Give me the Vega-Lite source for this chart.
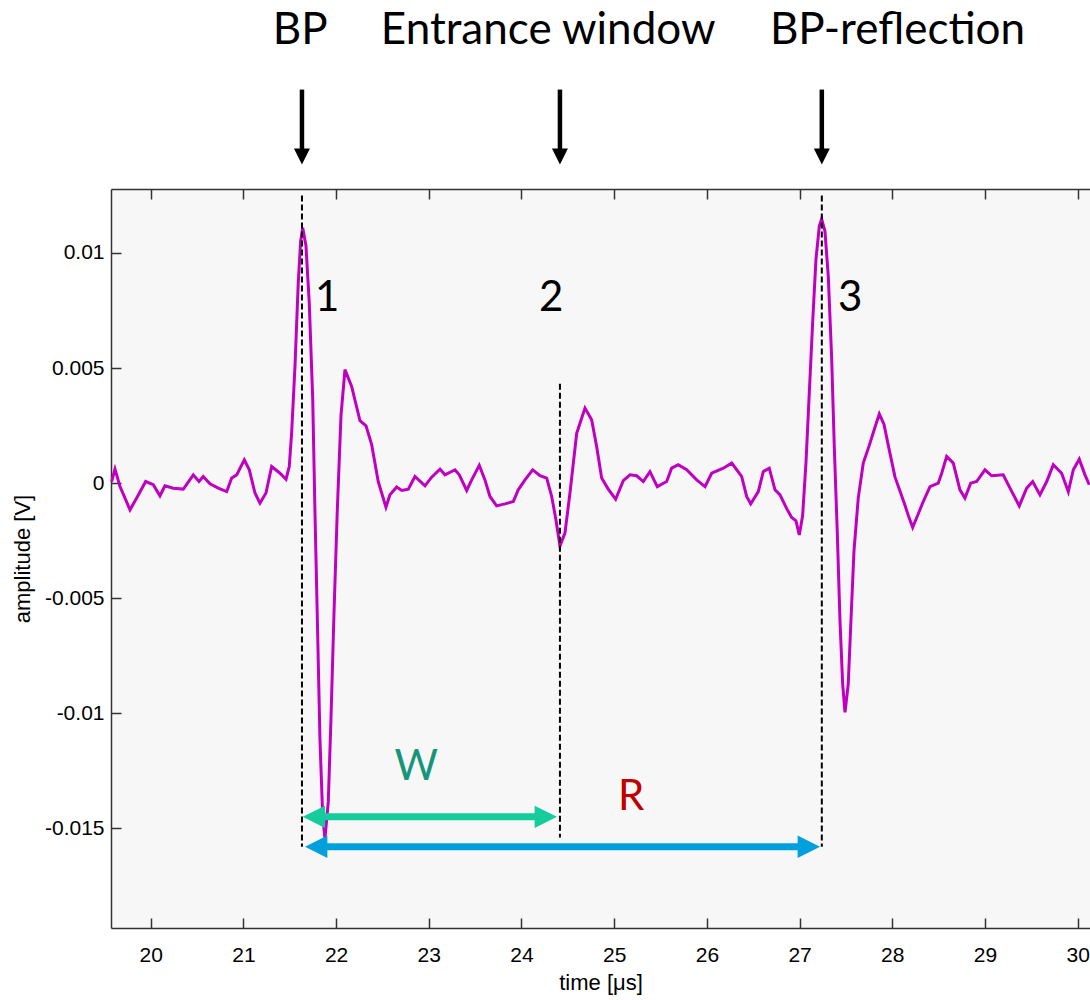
{
  "$schema": "https://vega.github.io/schema/vega-lite/v6.json",
  "width": 979,
  "height": 739,
  "autosize": {"type": "none"},
  "padding": {"left": 111, "top": 189, "right": 0, "bottom": 72},
  "background": "white",
  "config": {
    "view": {"fill": "#f7f7f7", "stroke": null},
    "axis": {
      "domainColor": "#333333", "domainWidth": 1.5,
      "tickColor": "#333333", "tickWidth": 1.5, "tickSize": -10,
      "labelFont": "Liberation Sans", "labelFontSize": 21, "labelColor": "black",
      "titleFont": "Liberation Sans", "titleFontSize": 22, "titleFontWeight": "normal", "titleColor": "black",
      "grid": false
    }
  },
  "datasets": {
    "wave": [
      {"t":19.579,"v":0.00007},{"t":19.615,"v":0.00061},{"t":19.669,"v":-0.00015},{"t":19.723,"v":-0.00065},
      {"t":19.777,"v":-0.00116},{"t":19.849,"v":-0.00065},{"t":19.946,"v":0.00007},{"t":20.028,"v":-0.00007},
      {"t":20.100,"v":-0.00055},{"t":20.154,"v":-0.00012},{"t":20.244,"v":-0.00022},{"t":20.352,"v":-0.00026},
      {"t":20.460,"v":0.00036},{"t":20.521,"v":0.00007},{"t":20.567,"v":0.00029},{"t":20.640,"v":-0.00003},
      {"t":20.729,"v":-0.00022},{"t":20.820,"v":-0.00037},{"t":20.874,"v":0.00022},{"t":20.928,"v":0.00036},
      {"t":21.010,"v":0.00101},{"t":21.064,"v":0.00058},{"t":21.125,"v":-0.00043},{"t":21.179,"v":-0.00087},
      {"t":21.244,"v":-0.00043},{"t":21.305,"v":0.00072},{"t":21.395,"v":0.00043},{"t":21.460,"v":0.00017},
      {"t":21.495,"v":0.00072},{"t":21.521,"v":0.00221},{"t":21.557,"v":0.00510},{"t":21.592,"v":0.00871},
      {"t":21.618,"v":0.01051},{"t":21.640,"v":0.01109},{"t":21.675,"v":0.01033},{"t":21.711,"v":0.00781},
      {"t":21.748,"v":0.00367},{"t":21.772,"v":-0.00120},{"t":21.797,"v":-0.00573},{"t":21.826,"v":-0.01113},
      {"t":21.855,"v":-0.01438},{"t":21.880,"v":-0.01545},{"t":21.916,"v":-0.01384},{"t":21.945,"v":-0.01023},
      {"t":21.977,"v":-0.00573},{"t":22.013,"v":-0.00120},{"t":22.053,"v":0.00293},{"t":22.096,"v":0.00493},
      {"t":22.168,"v":0.00420},{"t":22.258,"v":0.00271},{"t":22.323,"v":0.00249},{"t":22.384,"v":0.00167},
      {"t":22.455,"v":0.00006},{"t":22.538,"v":-0.00105},{"t":22.581,"v":-0.00051},{"t":22.654,"v":-0.00017},
      {"t":22.708,"v":-0.00032},{"t":22.779,"v":-0.00026},{"t":22.851,"v":0.00029},{"t":22.959,"v":-0.00012},
      {"t":23.031,"v":0.00026},{"t":23.121,"v":0.00061},{"t":23.175,"v":0.00036},{"t":23.283,"v":0.00058},
      {"t":23.329,"v":0.00036},{"t":23.409,"v":-0.00032},{"t":23.463,"v":0.00014},{"t":23.545,"v":0.00077},
      {"t":23.606,"v":0.00014},{"t":23.660,"v":-0.00058},{"t":23.732,"v":-0.00099},{"t":23.822,"v":-0.00090},
      {"t":23.912,"v":-0.00080},{"t":23.965,"v":-0.00029},{"t":24.038,"v":0.00014},{"t":24.121,"v":0.00058},
      {"t":24.200,"v":0.00032},{"t":24.272,"v":0.00022},{"t":24.326,"v":-0.00058},{"t":24.372,"v":-0.00160},
      {"t":24.415,"v":-0.00273},{"t":24.469,"v":-0.00217},{"t":24.523,"v":-0.00043},{"t":24.596,"v":0.00217},
      {"t":24.685,"v":0.00326},{"t":24.757,"v":0.00275},{"t":24.811,"v":0.00159},{"t":24.865,"v":0.00022},
      {"t":24.936,"v":-0.00026},{"t":25.016,"v":-0.00070},{"t":25.098,"v":0.00011},{"t":25.171,"v":0.00036},
      {"t":25.243,"v":0.00032},{"t":25.314,"v":0.00007},{"t":25.386,"v":0.00050},{"t":25.465,"v":-0.00015},
      {"t":25.566,"v":0.00007},{"t":25.620,"v":0.00065},{"t":25.691,"v":0.00080},{"t":25.782,"v":0.00058},
      {"t":25.890,"v":0.00014},{"t":25.980,"v":-0.00015},{"t":26.052,"v":0.00043},{"t":26.177,"v":0.00065},
      {"t":26.268,"v":0.00087},{"t":26.375,"v":0.00029},{"t":26.429,"v":-0.00058},{"t":26.473,"v":-0.00090},
      {"t":26.555,"v":-0.00037},{"t":26.608,"v":0.00050},{"t":26.673,"v":0.00065},{"t":26.735,"v":-0.00029},
      {"t":26.789,"v":-0.00051},{"t":26.861,"v":-0.00111},{"t":26.915,"v":-0.00149},{"t":26.961,"v":-0.00164},
      {"t":26.997,"v":-0.00225},{"t":27.033,"v":-0.00141},{"t":27.069,"v":0.00088},{"t":27.105,"v":0.00393},
      {"t":27.141,"v":0.00698},{"t":27.177,"v":0.00973},{"t":27.213,"v":0.01117},{"t":27.238,"v":0.01148},
      {"t":27.274,"v":0.01094},{"t":27.310,"v":0.00896},{"t":27.346,"v":0.00545},{"t":27.374,"v":0.00164},
      {"t":27.407,"v":-0.00217},{"t":27.436,"v":-0.00599},{"t":27.465,"v":-0.00873},{"t":27.490,"v":-0.00996},
      {"t":27.525,"v":-0.00873},{"t":27.554,"v":-0.00599},{"t":27.587,"v":-0.00294},{"t":27.633,"v":-0.00065},
      {"t":27.687,"v":0.00087},{"t":27.752,"v":0.00164},{"t":27.806,"v":0.00233},{"t":27.860,"v":0.00301},
      {"t":27.911,"v":0.00255},{"t":27.957,"v":0.00164},{"t":28.029,"v":0.00027},{"t":28.083,"v":-0.00034},
      {"t":28.137,"v":-0.00096},{"t":28.173,"v":-0.00141},{"t":28.220,"v":-0.00192},{"t":28.281,"v":-0.00133},
      {"t":28.334,"v":-0.00080},{"t":28.407,"v":-0.00015},{"t":28.496,"v":0.00000},{"t":28.533,"v":0.00043},
      {"t":28.587,"v":0.00116},{"t":28.658,"v":0.00087},{"t":28.730,"v":-0.00029},{"t":28.784,"v":-0.00065},
      {"t":28.846,"v":0.00000},{"t":28.910,"v":0.00007},{"t":29.000,"v":0.00058},{"t":29.072,"v":0.00032},
      {"t":29.197,"v":0.00036},{"t":29.270,"v":-0.00022},{"t":29.370,"v":-0.00099},{"t":29.450,"v":-0.00022},
      {"t":29.515,"v":0.00007},{"t":29.593,"v":-0.00051},{"t":29.666,"v":0.00007},{"t":29.737,"v":0.00080},
      {"t":29.827,"v":0.00043},{"t":29.899,"v":-0.00037},{"t":29.953,"v":0.00058},{"t":30.017,"v":0.00104},
      {"t":30.079,"v":0.00036},{"t":30.125,"v":-0.00007}
    ],
    "dashed": [
      {"t":21.632,"top":0.0125,"bot":-0.0158},
      {"t":24.415,"top":0.00432,"bot":-0.0154},
      {"t":27.240,"top":0.0125,"bot":-0.0158}
    ],
    "shafts": [
      {"arrow":"W","t1":21.78,"t2":24.24,"y":-0.0145},
      {"arrow":"R","t1":21.80,"t2":27.08,"y":-0.0158}
    ],
    "heads": [
      {"arrow":"W","side":"left","t":21.640,"y":-0.0145},
      {"arrow":"W","side":"right","t":24.383,"y":-0.0145},
      {"arrow":"R","side":"left","t":21.665,"y":-0.0158},
      {"arrow":"R","side":"right","t":27.220,"y":-0.0158}
    ],
    "markers": [
      {"label":"BP","t":21.632,"lt":21.613},
      {"label":"Entrance window","t":24.415,"lt":24.288},
      {"label":"BP-reflection","t":27.240,"lt":28.056}
    ],
    "nums": [
      {"n":"1","t":21.904},
      {"n":"2","t":24.321},
      {"n":"3","t":27.546}
    ],
    "wr": [
      {"k":"W","t":22.864,"y":-0.01233},
      {"k":"R","t":25.183,"y":-0.01363}
    ]
  },
  "layer": [
    {
      "data": {"name": "wave"},
      "mark": {"type": "line", "color": "#c000c0", "strokeWidth": 3},
      "encoding": {
        "x": {"field": "t", "type": "quantitative",
              "scale": {"domain": [19.572, 30.133], "nice": false, "zero": false},
              "axis": {"orient": "bottom", "values": [20,21,22,23,24,25,26,27,28,29,30], "format": "d",
                       "labelPadding": 26, "title": "time [μs]", "titlePadding": 7}},
        "y": {"field": "v", "type": "quantitative",
              "scale": {"domain": [-0.01933, 0.01278], "nice": false, "zero": false},
              "axis": {"orient": "left", "values": [-0.015,-0.01,-0.005,0,0.005,0.01], "labelExpr": "datum.value + ''",
                       "labelPadding": 17, "title": "amplitude [V]", "titlePadding": 10}}
      }
    },
    {
      "data": {"name": "dashed"},
      "mark": {"type": "rule", "color": "black", "strokeWidth": 2, "strokeDash": [6, 3]},
      "encoding": {
        "x": {"field": "t", "type": "quantitative",
              "axis": {"orient": "top", "values": [20,21,22,23,24,25,26,27,28,29,30], "labels": false, "title": null}},
        "y": {"field": "top", "type": "quantitative", "axis": null},
        "y2": {"field": "bot"}
      }
    },
    {
      "data": {"name": "shafts"},
      "mark": {"type": "rule", "strokeWidth": 7},
      "encoding": {
        "x": {"field": "t1", "type": "quantitative", "axis": null},
        "x2": {"field": "t2"},
        "y": {"field": "y", "type": "quantitative", "axis": null},
        "color": {"field": "arrow", "type": "nominal", "legend": null,
                  "scale": {"domain": ["W", "R"], "range": ["#14cc9c", "#00a0dc"]}}
      }
    },
    {
      "data": {"name": "heads"},
      "mark": {"type": "point", "filled": true, "opacity": 1, "size": 500, "strokeWidth": 0},
      "encoding": {
        "x": {"field": "t", "type": "quantitative", "axis": null},
        "y": {"field": "y", "type": "quantitative", "axis": null},
        "shape": {"field": "side", "type": "nominal", "legend": null,
                  "scale": {"domain": ["left", "right"], "range": ["M0,0L2,-1L2,1Z", "M0,0L-2,-1L-2,1Z"]}},
        "color": {"field": "arrow", "type": "nominal", "legend": null,
                  "scale": {"domain": ["W", "R"], "range": ["#14cc9c", "#00a0dc"]}}
      }
    },
    {
      "data": {"name": "markers"},
      "mark": {"type": "rule", "color": "black", "strokeWidth": 4.5},
      "encoding": {
        "x": {"field": "t", "type": "quantitative", "axis": null},
        "y": {"datum": 0.0171, "type": "quantitative", "axis": null},
        "y2": {"datum": 0.0143}
      }
    },
    {
      "data": {"name": "markers"},
      "mark": {"type": "point", "filled": true, "opacity": 1, "size": 256, "strokeWidth": 0, "color": "black", "shape": "M0,0L-1,-2L1,-2Z"},
      "encoding": {
        "x": {"field": "t", "type": "quantitative", "axis": null},
        "y": {"datum": 0.01384, "type": "quantitative", "axis": null}
      }
    },
    {
      "data": {"name": "markers"},
      "mark": {"type": "text", "font": "Lato", "fontSize": 44, "color": "black", "align": "center", "baseline": "alphabetic"},
      "encoding": {
        "x": {"field": "lt", "type": "quantitative", "axis": null},
        "y": {"datum": 0.01910, "type": "quantitative", "axis": null},
        "text": {"field": "label"}
      }
    },
    {
      "data": {"name": "nums"},
      "mark": {"type": "text", "font": "Lato", "fontSize": 42, "color": "black", "align": "center", "baseline": "middle"},
      "encoding": {
        "x": {"field": "t", "type": "quantitative", "axis": null},
        "y": {"datum": 0.00806, "type": "quantitative", "axis": null},
        "text": {"field": "n"}
      }
    },
    {
      "data": {"name": "wr"},
      "mark": {"type": "text", "font": "Lato", "fontSize": 42, "align": "center", "baseline": "middle"},
      "encoding": {
        "x": {"field": "t", "type": "quantitative", "axis": null},
        "y": {"field": "y", "type": "quantitative", "axis": null},
        "text": {"field": "k"},
        "color": {"field": "k", "type": "nominal", "legend": null,
                  "scale": {"domain": ["W", "R"], "range": ["#17957a", "#c00000"]}}
      }
    }
  ],
  "resolve": {
    "axis": {"x": "independent", "y": "independent"},
    "scale": {"color": "independent", "shape": "independent"}
  }
}
